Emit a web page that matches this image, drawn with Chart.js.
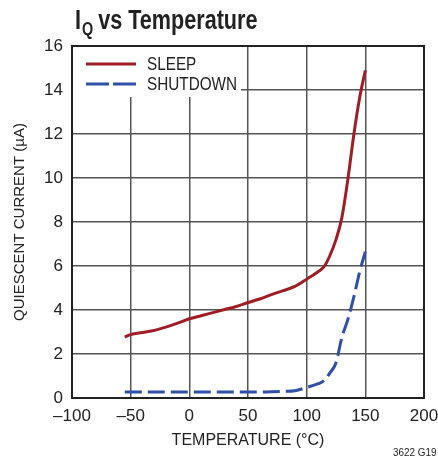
<!DOCTYPE html>
<html>
<head>
<meta charset="utf-8">
<script src="https://cdn.jsdelivr.net/npm/chart.js@4"></script>
<style>
  html, body { margin: 0; padding: 0; background: #fff; }
  #wrap { width: 438px; height: 464px; position: relative; }
</style>
</head>
<body>
<div id="wrap"><canvas id="chart" width="438" height="464"></canvas></div>
<script>
// temperature (°C) and quiescent current (µA)
const temps    = [-55, -50, -40, -30, -20, -10, 0, 10, 20, 30, 40, 50, 60, 70, 80, 90, 100, 110, 115, 120, 125, 130, 135, 140, 145, 150];
const sleep    = [2.77, 2.88, 2.98, 3.07, 3.22, 3.4, 3.6, 3.74, 3.88, 4.02, 4.16, 4.34, 4.5, 4.7, 4.88, 5.07, 5.4, 5.75, 5.98, 6.5, 7.2, 8.2, 9.9, 11.9, 13.6, 14.9];
const shutdown = [0.27, 0.27, 0.27, 0.27, 0.27, 0.27, 0.27, 0.27, 0.27, 0.27, 0.27, 0.27, 0.27, 0.28, 0.3, 0.33, 0.48, 0.65, 0.8, 1.15, 1.6, 2.75, 3.55, 4.55, 5.7, 6.65];
const xTicks = [-100, -50, 0, 50, 100, 150, 200];

const FONT = '"Liberation Sans Narrow", "Liberation Sans", Arial, sans-serif';
const RED = '#a01d25';
const BLUE = '#2f4fa9';

function pts(vals) {
    return temps.map((t, i) => ({x: t, y: vals[i]}));
}

// draw text squeezed a bit, the original uses a condensed face
function narrowText(ctx, txt, x, y, sx) {
    ctx.save();
    ctx.translate(x, y);
    ctx.scale(sx, 1);
    ctx.fillText(txt, 0, 0);
    ctx.restore();
    return ctx.measureText(txt).width * sx;
}

// title, inset legend and figure number
const extras = {
    id: 'extras',
    beforeDatasetsDraw(chart) {
        const ctx = chart.ctx;
        const a = chart.chartArea;
        ctx.save();
        // legend box covers the grid
        ctx.fillStyle = '#fff';
        ctx.fillRect(a.left + 1, a.top + 1, 168, 50);
        chart.data.datasets.forEach((ds, i) => {
            const y = a.top + 18 + i * 20;
            ctx.strokeStyle = ds.borderColor;
            ctx.lineWidth = 3;
            ctx.setLineDash(ds.legendDash || []);
            ctx.beginPath();
            ctx.moveTo(a.left + 14, y);
            ctx.lineTo(a.left + 64, y);
            ctx.stroke();
            ctx.setLineDash([]);
            ctx.fillStyle = '#222';
            ctx.font = '18px ' + FONT;
            ctx.textBaseline = 'middle';
            narrowText(ctx, ds.label, a.left + 75, y + 1, 0.85);
        });
        ctx.restore();
    },
    afterDraw(chart) {
        const ctx = chart.ctx;
        ctx.save();
        ctx.fillStyle = '#222';
        ctx.textBaseline = 'alphabetic';
        ctx.font = 'bold 27px ' + FONT;
        let x = 75;
        x += narrowText(ctx, 'I', x, 29, 0.8) + 1;
        ctx.font = 'bold 18px ' + FONT;
        x += narrowText(ctx, 'Q', x, 35, 0.8) + 5;
        ctx.font = 'bold 27px ' + FONT;
        narrowText(ctx, 'vs Temperature', x, 29, 0.8);
        ctx.font = '11px ' + FONT;
        narrowText(ctx, '3622 G19', 393, 456, 0.9);
        ctx.restore();
    }
};

const chart = new Chart(document.getElementById('chart'), {
    type: 'line',
    data: {
        datasets: [{
            label: 'SLEEP',
            data: pts(sleep),
            borderColor: RED,
            borderWidth: 3,
            pointRadius: 0,
            cubicInterpolationMode: 'monotone'
        }, {
            label: 'SHUTDOWN',
            data: pts(shutdown),
            borderColor: BLUE,
            borderWidth: 3,
            borderDash: [17, 6],
            legendDash: [23, 4],
            pointRadius: 0,
            cubicInterpolationMode: 'monotone'
        }]
    },
    options: {
        responsive: false,
        animation: false,
        layout: { padding: { top: 46, right: 14, left: 0, bottom: 0 } },
        plugins: { legend: { display: false }, tooltip: { enabled: false } },
        scales: {
            x: {
                type: 'linear',
                min: -100, max: 200,
                afterBuildTicks: s => { s.ticks = xTicks.map(v => ({value: v})); },
                afterFit: s => { s.height = 66; s.paddingLeft = 0; s.paddingRight = 0; },
                border: { color: '#222', width: 2 },
                grid: { color: '#555', lineWidth: 1.5, drawTicks: false },
                ticks: {
                    padding: 8,
                    color: '#222',
                    font: { family: FONT, size: 17 },
                    callback: v => String(v).replace('-', '\u2013')
                },
                title: {
                    display: true,
                    text: 'TEMPERATURE (°C)',
                    color: '#222',
                    font: { family: FONT, size: 16 },
                    padding: { top: 2, bottom: 14 }
                }
            },
            y: {
                min: 0, max: 16,
                ticks: {
                    stepSize: 2,
                    padding: 9,
                    color: '#222',
                    font: { family: FONT, size: 17 }
                },
                afterFit: s => { s.width = 72; s.paddingTop = 0; s.paddingBottom = 0; },
                border: { color: '#222', width: 2 },
                grid: { color: '#555', lineWidth: 1.5, drawTicks: false },
                title: {
                    display: true,
                    text: 'QUIESCENT CURRENT (µA)',
                    color: '#222',
                    font: { family: FONT, size: 15 },
                    padding: { top: 11, bottom: 0 }
                }
            },
            x2: {
                type: 'linear', position: 'top', min: -100, max: 200,
                display: true,
                grid: { display: false, drawTicks: false },
                ticks: { display: false },
                border: { color: '#222', width: 2 },
                afterFit: s => { s.height = 0; s.paddingLeft = 0; s.paddingRight = 0; }
            },
            y2: {
                type: 'linear', position: 'right', min: 0, max: 16,
                display: true,
                grid: { display: false, drawTicks: false },
                ticks: { display: false },
                border: { color: '#222', width: 2 },
                afterFit: s => { s.width = 0; s.paddingTop = 0; s.paddingBottom = 0; }
            }
        }
    },
    plugins: [extras]
});
</script>
</body>
</html>
